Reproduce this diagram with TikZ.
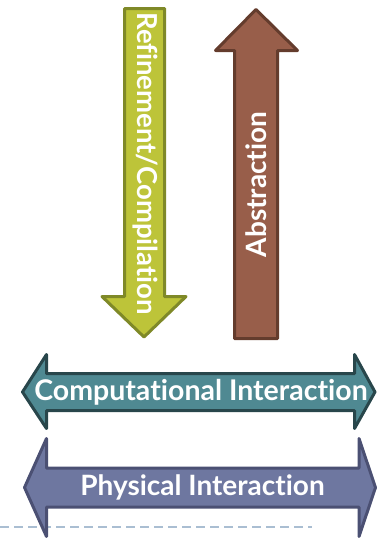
\documentclass[tikz,border=0pt]{standalone}
\usepackage{fontspec}
\setmainfont{Lato}[Ligatures=NoCommon]

\definecolor{refinefill}{HTML}{BDC439}
\definecolor{refinedraw}{HTML}{7F8928}
\definecolor{abstrfill}{HTML}{985E4A}
\definecolor{abstrdraw}{HTML}{643C2D}
\definecolor{compfill}{HTML}{4F8992}
\definecolor{compdraw}{HTML}{28464B}
\definecolor{physfill}{HTML}{6E77A0}
\definecolor{physdraw}{HTML}{4B5073}
\definecolor{dashcol}{HTML}{AABED2}

\begin{document}
\begin{tikzpicture}[x=1pt, y=-1pt,
    bigarrow/.style={line width=3pt, line join=round},
    arrowtext/.style={text=white, inner sep=0pt, font=\bfseries\fontsize{28.5}{28.5}\selectfont}]
    \useasboundingbox (0,0) rectangle (376,538);

    % Dashed rule
    \draw[dashcol, line width=1.2pt, dash pattern=on 9pt off 5pt] (0,527) -- (312,527);

    % Refinement arrow (down)
    \draw[bigarrow, fill=refinefill, draw=refinedraw]
        (124.5,8.5) -- (164.5,8.5) -- (164.5,296.5) -- (186,296.5)
        -- (144,337) -- (102,296.5) -- (124.5,296.5) -- cycle;
    \node[arrowtext, font=\bfseries\fontsize{27.5}{27.5}\selectfont, rotate=-90] (refinetext) at (145,163.5) {Refinement/Compilation};

    % Abstraction arrow (up)
    \draw[bigarrow, fill=abstrfill, draw=abstrdraw]
        (234.5,338.5) -- (234.5,50.5) -- (215.5,50.5) -- (256,9.5)
        -- (297.5,50.5) -- (277.5,50.5) -- (277.5,338.5) -- cycle;
    \node[arrowtext, font=\bfseries\fontsize{28}{28}\selectfont, rotate=90] (abstrtext) at (256,184.5) {Abstraction};

    % Computational interaction (double arrow)
    \draw[bigarrow, fill=compfill, draw=compdraw]
        (22.5,392) -- (46.5,354.5) -- (46.5,373.5) -- (354.5,373.5) -- (354.5,354.5)
        -- (375,392) -- (354.5,428.5) -- (354.5,410.5) -- (46.5,410.5) -- (46.5,428.5) -- cycle;
    \node[arrowtext] (comptext) at (201,392) {Computational Interaction};

    % Physical interaction (double arrow)
    \draw[bigarrow, fill=physfill, draw=physdraw]
        (24.5,487.5) -- (46.5,438.5) -- (46.5,468) -- (359,468) -- (359,438.5)
        -- (375.5,487.5) -- (359,536.5) -- (359,507) -- (46.5,507) -- (46.5,536.5) -- cycle;
    \node[arrowtext, font=\bfseries\fontsize{28}{28}\selectfont] (phystext) at (202.5,487.5) {Physical Interaction};
\end{tikzpicture}
\end{document}
